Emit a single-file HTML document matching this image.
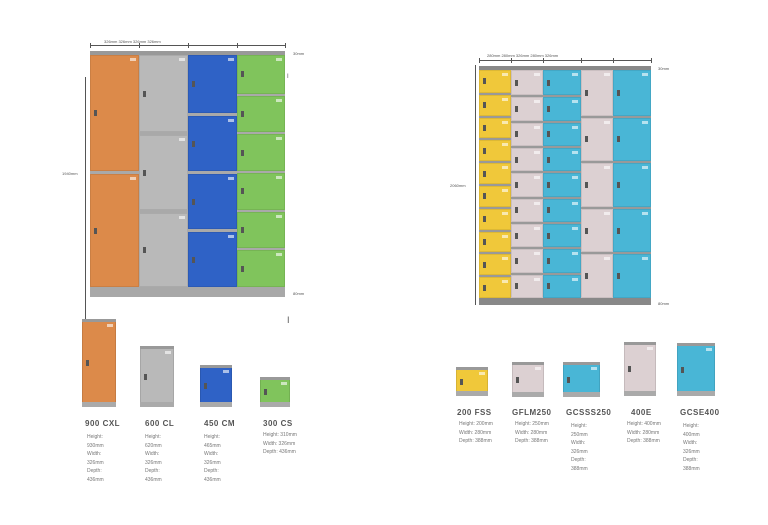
<!DOCTYPE html>
<html><head><meta charset="utf-8"><style>
body{margin:0;width:768px;height:525px;background:#fff;position:relative;overflow:hidden;font-family:"Liberation Sans",sans-serif}
div{position:absolute;box-sizing:border-box}
.t{font-size:4px;color:#555;white-space:nowrap}
.h{font-size:8px;font-weight:bold;color:#555;letter-spacing:.5px;white-space:nowrap}
.s{font-size:5px;color:#777;line-height:8.6px;white-space:nowrap}
</style></head><body>
<script>
const R=document.body;
function d(x,y,w,h,bg,extra){const e=document.createElement('div');e.style.cssText=`left:${x}px;top:${y}px;width:${w}px;height:${h}px;background:${bg};${extra||''}`;R.appendChild(e);return e;}
function txt(x,y,c,s,st){const e=document.createElement('div');e.className=c;e.style.left=x+'px';e.style.top=y+'px';e.innerHTML=s;if(st)e.style.cssText+=st;R.appendChild(e);}
function door(x,y,w,h,col){d(x,y,w,h,col,'border:1px solid rgba(0,0,0,.08)');
 d(x+w-9,y+3,6,3,'rgba(255,255,255,.6)');
 d(x+4,y+h/2-3,3,6,'#555');}
function column(x,w,y0,y1,n,col,gap){const hh=(y1-y0)/n;for(let i=0;i<n;i++)door(x,y0+i*hh+(i?gap:0),w,hh-(i?gap:0),col);}
// Left block
d(90,51,195,246,'#a9a9a9');
d(90,51,195,4,'#999');d(90,287,195,10,'#a8a8a8');
column(90,49,55,287,2,'#dc8a4a',3);
column(139,49,55,287,3,'#b9b9b9',3);
column(188,49,55,287,4,'#2f62c6',3);
column(237,48,55,287,6,'#80c45c',2);
d(90,45,195,1,'#555');[90,139,188,237,285].forEach(x=>d(x,43,1,5,'#555'));
txt(104,39,'t','326mm 326mm 326mm 326mm');
d(85,77,1,243,'#555');
txt(62,171,'t','1940mm');txt(293,51,'t','30mm');txt(293,291,'t','80mm');
txt(287,74,'t','I',"font-size:6px");txt(287,315,'t','I',"font-size:9px");
// Right block
d(479,66,172,239,'#999');
d(479,66,172,4,'#888');d(479,298,172,7,'#888');
column(479,32,70,298,10,'#f0c83a',2);
column(511,32,70,298,9,'#dcd0d2',2);
column(543,38,70,298,9,'#49b6d6',2);
column(581,32,70,298,5,'#dcd0d2',2);
column(613,38,70,298,5,'#49b6d6',2);
d(479,60,172,1,'#555');[479,511,543,581,613,651].forEach(x=>d(x,58,1,5,'#555'));
txt(487,53,'t','280mm 280mm 326mm 280mm 326mm');
d(475,65,1,240,'#555');
txt(450,183,'t','2060mm');txt(658,66,'t','30mm');txt(658,301,'t','80mm');
function single(x,y,w,h,col){d(x,y,w,h,col,'border:1px solid rgba(0,0,0,.1)');d(x,y,w,3,'#999');d(x,h+y-5,w,5,'#aaa');d(x+w-9,y+5,6,3,'rgba(255,255,255,.6)');d(x+4,y+h/2-3,3,6,'#555');}
single(82,319,34,88,'#dc8a4a');single(140,346,34,61,'#b9b9b9');single(200,365,32,42,'#2f62c6');single(260,377,30,30,'#80c45c');
txt(85,419,'h','900 CXL');txt(145,419,'h','600 CL');txt(204,419,'h','450 CM');txt(263,419,'h','300 CS');
txt(87,433,'s','Height:<br>930mm<br>Width:<br>326mm<br>Depth:<br>436mm');
txt(145,433,'s','Height:<br>620mm<br>Width:<br>326mm<br>Depth:<br>436mm');
txt(204,433,'s','Height:<br>465mm<br>Width:<br>326mm<br>Depth:<br>436mm');
txt(263,431,'s','Height: 310mm<br>Width: 326mm<br>Depth: 436mm');
single(456,367,32,29,'#f0c83a');single(512,362,32,35,'#dcd0d2');single(563,362,37,35,'#49b6d6');single(624,342,32,54,'#dcd0d2');single(677,343,38,53,'#49b6d6');
txt(457,408,'h','200 FSS');txt(512,408,'h','GFLM250');txt(566,408,'h','GCSSS250');txt(631,408,'h','400E');txt(680,408,'h','GCSE400');
txt(459,420,'s','Height: 200mm<br>Width: 280mm<br>Depth: 388mm');
txt(515,420,'s','Height: 250mm<br>Width: 280mm<br>Depth: 388mm');
txt(571,422,'s','Height:<br>250mm<br>Width:<br>326mm<br>Depth:<br>388mm');
txt(627,420,'s','Height: 400mm<br>Width: 280mm<br>Depth: 388mm');
txt(683,422,'s','Height:<br>400mm<br>Width:<br>326mm<br>Depth:<br>388mm');
</script>
</body></html>
